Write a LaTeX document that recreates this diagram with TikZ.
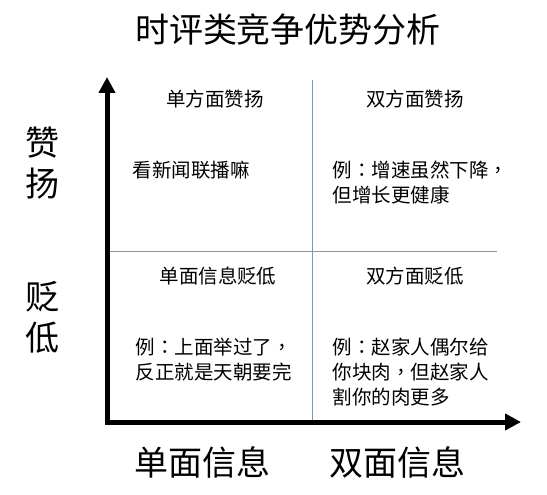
\documentclass[tikz,border=0pt]{standalone}
\usepackage{fontspec}
\setmainfont{Noto Sans CJK SC}
\newfontfamily\tcfont{Noto Sans CJK TC}
\newcommand{\colonmark}{{\tcfont ：}}
\newcommand{\commamark}{{\tcfont ，}}
\usetikzlibrary{arrows.meta}
\definecolor{gridgray}{HTML}{8393A8}

\begin{document}
\begin{tikzpicture}[x=1pt, y=-1pt, line width=0.6pt,
    axis/.style={line width=5pt, {Triangle[length=16pt,width=16pt]}-{Triangle[length=16pt,width=16pt]}},
    divider/.style={draw=gridgray, line width=0.8pt},
    cell/.style={font=\fontsize{19.5}{25}\selectfont, align=left},
    biglabel/.style={font=\fontsize{34}{41}\selectfont, align=center}]
  \useasboundingbox (0,0) rectangle (547,495);
  \node[biglabel] (title) at (288,30) {时评类竞争优势分析};
  % axes and grid
  \coordinate (O) at (107,422);
  \coordinate (ytop) at (107,77);
  \coordinate (xend) at (521,422);
  \coordinate (vtop) at (312,80);
  \coordinate (vbot) at (312,422);
  \coordinate (hleft) at (107,251);
  \coordinate (hright) at (497,251);
  \draw[divider] (vtop) -- (vbot);
  \draw[divider] (hleft) -- (hright);
  \draw[axis] (ytop) -- (O) -- (xend);
  % quadrants
  \node[cell] (praiseone) at (215,99) {单方面赞扬};
  \node[cell] (praisetwo) at (415,99) {双方面赞扬};
  \node[cell] (blameone) at (218,276) {单面信息贬低};
  \node[cell] (blametwo) at (415,276) {双方面贬低};
  \node[cell, anchor=west] (exone) at (129,170) {看新闻联播嘛};
  \node[cell, anchor=west] (extwo) at (329,183) {例\colonmark 增速虽然下降\commamark\\但增长更健康};
  \node[cell, anchor=west] (exthree) at (132,360) {例\colonmark 上面举过了\commamark\\反正就是天朝要完};
  \node[cell, anchor=west] (exfour) at (329,372) {例\colonmark 赵家人偶尔给\\你块肉\commamark 但赵家人\\割你的肉更多};
  % axis labels
  \node[biglabel] (praise) at (42,163) {赞\\扬};
  \node[biglabel] (blame) at (42,317) {贬\\低};
  \node[biglabel] (single) at (202,462) {单面信息};
  \node[biglabel] (double) at (397,462) {双面信息};
\end{tikzpicture}
\end{document}
